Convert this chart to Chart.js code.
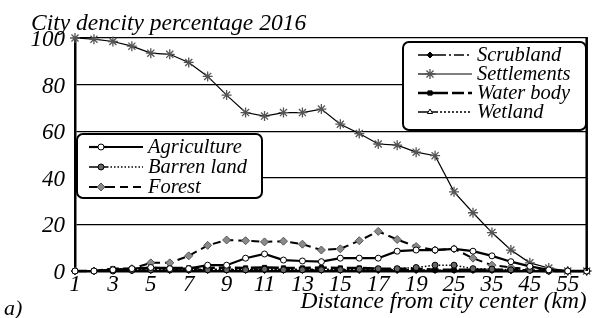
<!DOCTYPE html>
<html>
<head>
<meta charset="utf-8">
<script src="https://cdn.jsdelivr.net/npm/chart.js@4.4.0/dist/chart.umd.min.js"></script>
<style>
  html, body { margin: 0; padding: 0; background: #fff; }
  #wrap { width: 593px; height: 318px; }
</style>
</head>
<body>
<div id="wrap"><canvas id="chart"></canvas></div>
<script>
const distances = ['1', '2', '3', '4', '5', '6', '7', '8', '9', '10', '11', '12', '13', '14', '15', '16', '17', '18', '19', '20',
                   '25', '30', '35', '40', '45', '50', '55', '60'];

const agriculture = [0, 0, 0.5, 1, 1.5, 1, 1, 2.5, 2.5, 5.5, 7.3, 4.7, 4.3, 4, 5.5, 5.5, 5.5, 8.5, 9, 9, 9.5, 8.5, 6.5, 4, 2, 0.5, 0, 0];
const barrenLand = [0, 0, 0, 0.3, 0.5, 0.5, 0.5, 0.5, 0.5, 0.5, 0.8, 0.5, 0.5, 0.5, 0.5, 0.8, 1, 1, 1.5, 2.5, 2.5, 1, 0.8, 0.5, 0.3, 0, 0, 0];
const forest = [0, 0, 0.5, 1, 3.5, 3.5, 6.5, 11, 13.3, 13, 12.5, 12.8, 11.5, 9, 9.5, 13, 17, 13.5, 10.5, 9, 9.5, 5.5, 2.5, 1.5, 0.8, 0, 0, 0];
const scrubland = [0, 0, 0, 0, 0.2, 0.2, 0.2, 0.2, 0.2, 0.2, 0.2, 0.2, 0.2, 0.2, 0.2, 0.2, 0.2, 0.2, 0.2, 0.2, 0.2, 0.2, 0.2, 0, 0, 0, 0, 0];
const settlements = [100, 99.5, 98.5, 96.5, 93.5, 93, 89.5, 83.5, 75.5, 68, 66.5, 68, 68, 69.5, 63, 59, 54.5, 54, 51, 49.5, 34, 25, 16.5, 9, 3.5, 1.3, 0, 0];
const waterBody = [0, 0, 1, 1, 1.3, 1.3, 1.3, 1.3, 1.5, 1.3, 1.5, 1.3, 1.3, 1.5, 1.3, 1.3, 1, 1, 1, 0.5, 0.5, 0.5, 0.5, 0.5, 0.3, 0, 0, 0];
const wetland = [0, 0, 0.5, 0.5, 0.8, 0.8, 0.8, 0.8, 0.8, 0.8, 0.8, 0.8, 0.8, 0.8, 0.8, 0.8, 0.5, 0.5, 0.5, 0.3, 0.3, 0.3, 0.3, 0.3, 0, 0, 0, 0];

const yTicks = [0, 20, 40, 60, 80, 100];

const titleText = 'City dencity percentage 2016';
const xTitle = 'Distance from city center (km)';
const panelLabel = 'a)';

const serif = "'Liberation Serif', 'Times New Roman', serif";

function series(label, data, style) {
    return Object.assign({
        label: label,
        data: data,
        borderColor: '#000',
        backgroundColor: '#000',
        pointBorderColor: '#000',
        pointBorderWidth: 1,
        tension: 0,
        clip: false
    }, style);
}

const datasets = [
    series('Agriculture', agriculture, { borderWidth: 2.2, pointStyle: 'circle', pointRadius: 3, pointBackgroundColor: '#fff' }),
    series('Barren land', barrenLand, { borderWidth: 1.5, borderDash: [1.5, 2], pointStyle: 'circle', pointRadius: 3, pointBackgroundColor: '#666' }),
    series('Forest', forest, { borderWidth: 2, borderDash: [8, 5], pointStyle: 'rectRot', pointRadius: 4, pointBackgroundColor: '#8a8a8a', pointBorderColor: '#555' }),
    series('Scrubland', scrubland, { borderWidth: 1.5, borderDash: [10, 3, 2, 3], pointStyle: 'rectRot', pointRadius: 3, pointBackgroundColor: '#000' }),
    series('Settlements', settlements, { borderWidth: 1.2, pointStyle: 'star', pointRadius: 5, pointBorderColor: '#555', pointBorderWidth: 1.3 }),
    series('Water body', waterBody, { borderWidth: 2.5, borderDash: [12, 4], pointStyle: 'rect', pointRadius: 3, pointBackgroundColor: '#000' }),
    series('Wetland', wetland, { borderWidth: 1.5, borderDash: [2, 2], pointStyle: 'triangle', pointRadius: 3, pointBackgroundColor: '#fff' })
];

// two boxed legends drawn inside the plot, plus the corner texts and right frame
const extras = {
    id: 'extras',
    afterDraw(chart) {
        const ctx = chart.ctx;
        const a = chart.chartArea;
        ctx.save();

        // right frame line
        ctx.strokeStyle = '#000';
        ctx.lineWidth = 2.5;
        ctx.beginPath();
        ctx.moveTo(a.right, a.top - 1);
        ctx.lineTo(a.right, a.bottom);
        ctx.stroke();

        ctx.font = 'italic 23.5px ' + serif;
        ctx.fillStyle = '#000';
        ctx.textBaseline = 'alphabetic';
        ctx.textAlign = 'left';
        ctx.fillText(titleText, 31, 30);
        ctx.font = 'italic 22px ' + serif;
        ctx.fillText(panelLabel, 4, 315);

        drawLegend(chart, [0, 1, 2], a.left + 2, 134, 185, 64, 20, 0);
        drawLegend(chart, [3, 4, 5, 6], 403, 42, 183, 88, 19, 3);
        ctx.restore();
    }
};

function drawLegend(chart, items, x, y, w, h, rowH, inset) {
    const ctx = chart.ctx;
    ctx.save();
    ctx.fillStyle = '#fff';
    ctx.strokeStyle = '#000';
    ctx.lineWidth = 2;
    ctx.beginPath();
    ctx.roundRect(x, y, w, h, 6);
    ctx.fill();
    ctx.stroke();

    items.forEach((idx, i) => {
        const ds = chart.data.datasets[idx];
        const cy = y + 13 + i * rowH;
        const x0 = x + 12 + inset, x1 = x + 66 + inset;
        ctx.save();
        ctx.strokeStyle = ds.borderColor;
        ctx.lineWidth = ds.borderWidth;
        ctx.setLineDash(ds.borderDash || []);
        ctx.beginPath();
        ctx.moveTo(x0 + 18, cy);
        ctx.lineTo(x1, cy);
        ctx.stroke();
        ctx.setLineDash([]);
        ctx.beginPath();
        ctx.moveTo(x0, cy);
        ctx.lineTo(x0 + 18, cy);
        ctx.stroke();
        ctx.fillStyle = ds.pointBackgroundColor || '#000';
        ctx.strokeStyle = ds.pointBorderColor;
        ctx.lineWidth = ds.pointBorderWidth;
        Chart.helpers.drawPoint(ctx, { pointStyle: ds.pointStyle, radius: ds.pointRadius, rotation: 0, borderWidth: ds.pointBorderWidth }, x0 + 12, cy);
        ctx.restore();

        ctx.font = 'italic 20.5px ' + serif;
        ctx.fillStyle = '#000';
        ctx.textAlign = 'left';
        ctx.textBaseline = 'middle';
        ctx.fillText(ds.label, x1 + 5, cy + 1);
    });
    ctx.restore();
}

new Chart(document.getElementById('chart'), {
    type: 'line',
    data: { labels: distances, datasets: datasets },
    plugins: [extras],
    options: {
        responsive: true,
        maintainAspectRatio: false,
        animation: false,
        layout: { padding: { top: 38, right: 5, left: 0, bottom: 0 } },
        plugins: {
            legend: { display: false },
            tooltip: { enabled: false }
        },
        scales: {
            x: {
                type: 'category',
                offset: false,
                grid: { display: false, drawTicks: false },
                border: { display: true, color: '#000', width: 2.5 },
                ticks: {
                    autoSkip: false,
                    maxRotation: 0,
                    padding: 0,
                    color: '#000',
                    font: { family: serif, style: 'italic', size: 23 },
                    callback: (v, i) => (i % 2 === 0 ? distances[i] : '')
                },
                title: {
                    display: true,
                    text: xTitle,
                    align: 'end',
                    color: '#000',
                    font: { family: serif, style: 'italic', size: 23.5 },
                    padding: { top: 0, bottom: 2 }
                },
                afterFit: (scale) => { scale.height = 47; }
            },
            y: {
                min: 0,
                max: 100,
                grid: { color: '#000', lineWidth: 1.3, drawTicks: false },
                border: { display: true, color: '#000', width: 2.5 },
                ticks: {
                    stepSize: 10,
                    padding: 10,
                    labelOffset: 2,
                    color: '#000',
                    font: { family: serif, style: 'italic', size: 23 },
                    callback: (v) => (yTicks.includes(v) ? v : '')
                },
                afterFit: (scale) => { scale.width = 75; }
            }
        }
    }
});
</script>
</body>
</html>
